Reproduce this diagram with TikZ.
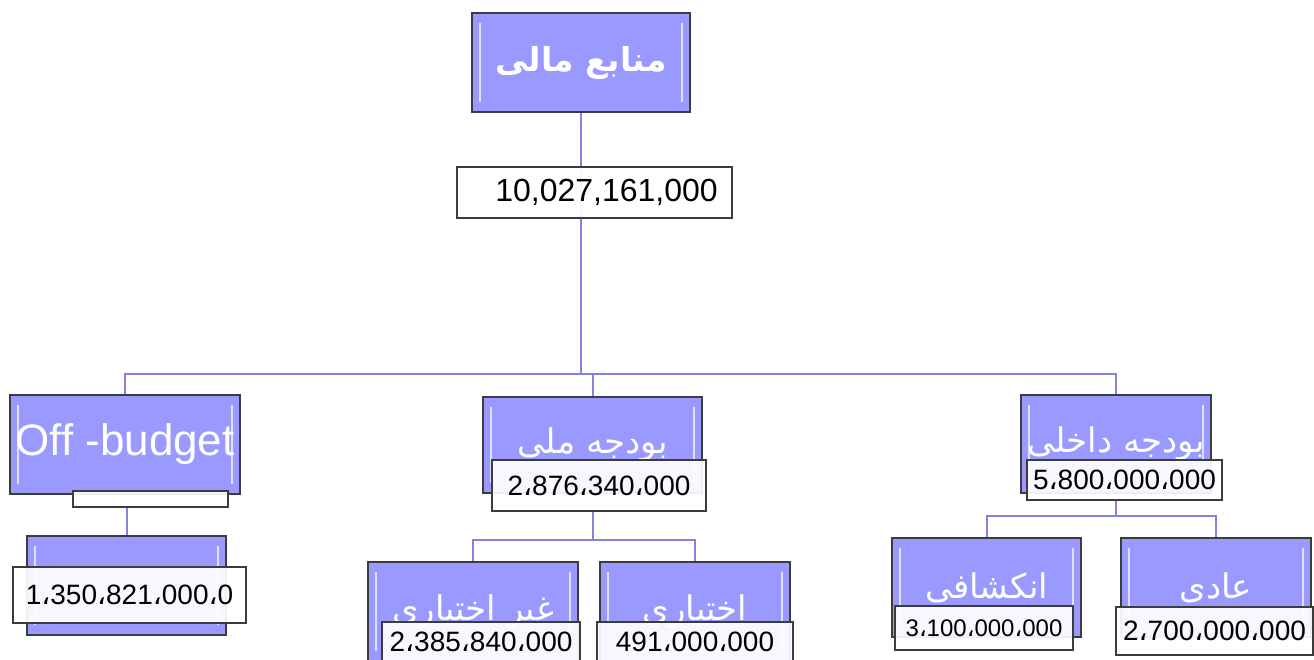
\documentclass[tikz,border=0pt]{standalone}
\usepackage{fontspec}
\setmainfont{Liberation Sans}
\newfontfamily\farsi[Script=Arabic]{DejaVu Sans}
\newfontfamily\commafont{DejaVu Sans}
\TeXXeTstate=1
\usetikzlibrary{backgrounds}
\definecolor{boxblue}{RGB}{153,153,255}
\definecolor{linkblue}{RGB}{130,130,228}
\definecolor{edgegray}{RGB}{60,60,60}
\newcommand{\ac}{{\commafont ،}}
\tikzset{
	blockbox/.style={draw=edgegray, line width=1.4pt, fill=boxblue, text=white, inner sep=0pt,
		minimum height=99pt,
		path picture={\draw[white, opacity=0.7, line width=1.5pt]
			([shift={(8pt,-10pt)}]path picture bounding box.north west) -- ([shift={(8pt,10pt)}]path picture bounding box.south west)
			([shift={(-8pt,-10pt)}]path picture bounding box.north east) -- ([shift={(-8pt,10pt)}]path picture bounding box.south east);}},
	falabel/.style={font=\farsi\fontsize{34}{36}\selectfont},
	numbox/.style={draw=edgegray, line width=1.4pt, fill=white, fill opacity=0.92, text opacity=1,
		inner sep=0pt, font=\fontsize{28}{30}\selectfont},
	conn/.style={draw=linkblue, line width=2pt}
}
\begin{document}
\begin{tikzpicture}[x=1pt, y=-1pt]
\useasboundingbox (0,0) rectangle (1314,659);
\clip (0,0) rectangle (1314,659);

\node[blockbox, minimum width=218pt, font=\farsi\bfseries\fontsize{33}{36}\selectfont] (src) at (581,62.5) {\beginR منابع مالی\endR};
\node[numbox, minimum width=275pt, minimum height=51pt, font=\fontsize{32}{34}\selectfont] (srcnum) at (594.5,192.5) {\hspace*{24pt}10,027,161,000};

\node[blockbox, minimum width=230pt, font=\fontsize{44}{46}\selectfont] (off) at (125,444.5) {Off -budget};
\node[numbox, minimum width=155pt, minimum height=16pt] (offnum) at (150.5,499) {};
\node[blockbox, minimum width=199pt] (offsub) at (126.5,585.5) {};
\node[numbox, minimum width=233pt, minimum height=56pt] (offsubnum) at (129.5,595) {1\ac350\ac821\ac000\ac0};

\node[blockbox, falabel, minimum width=219pt, minimum height=96pt] (nat) at (592.5,445) {\beginR بودجه ملی\endR};
\node[numbox, minimum width=214pt, minimum height=51pt] (natnum) at (599,485.5) {2\ac876\ac340\ac000};
\node[blockbox, falabel, minimum width=210pt] (nondisc) at (473,611.5) {\beginR غیر اختیاری\endR};
\node[numbox, minimum width=198pt, minimum height=40pt] (nondiscnum) at (481,642) {2\ac385\ac840\ac000};
\node[blockbox, falabel, minimum width=190pt] (disc) at (695,611.5) {\beginR اختیاری\endR};
\node[numbox, minimum width=196pt, minimum height=40pt] (discnum) at (695,642) {491\ac000\ac000};

\node[blockbox, falabel, minimum width=190pt, minimum height=98pt] (dom) at (1116,444) {\beginR بودجه داخلی\endR};
\node[numbox, minimum width=195pt, minimum height=40pt] (domnum) at (1124.5,480) {5\ac800\ac000\ac000};
\node[blockbox, falabel, minimum width=189pt] (dev) at (986.5,587.5) {\beginR انکشافی\endR};
\node[numbox, minimum width=178pt, minimum height=44pt, font=\fontsize{24}{26}\selectfont] (devnum) at (984,628) {3\ac100\ac000\ac000};
\node[blockbox, falabel, minimum width=190pt] (ord) at (1216,587.5) {\beginR عادی\endR};
\node[numbox, minimum width=197pt, minimum height=48pt] (ordnum) at (1214.5,631) {2\ac700\ac000\ac000};

\begin{scope}[on background layer]
\coordinate (bus) at (581,374);
\coordinate (natbus) at (592.5,540);
\coordinate (dombus) at (1116,516);
\draw[conn] (src.south) -- (bus);
\draw[conn] (off.north) |- (bus) -| (dom.north);
\draw[conn] (nat.north) |- (bus);
\draw[conn] (offsub.north) -- (offsub.north |- offnum.south);
\draw[conn] (nat.south |- natnum.south) -- (natbus);
\draw[conn] (nondisc.north) |- (natbus) -| (disc.north);
\draw[conn] (dom.south |- domnum.south) -- (dombus);
\draw[conn] (dev.north) |- (dombus) -| (ord.north);
\end{scope}
\end{tikzpicture}
\end{document}
